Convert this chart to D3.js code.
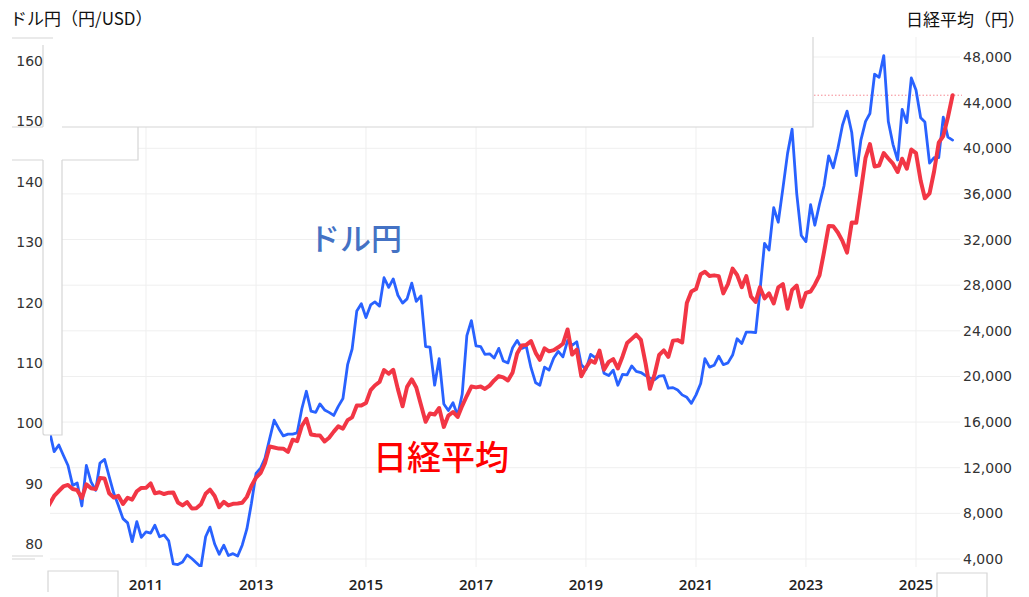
<!DOCTYPE html>
<html>
<head>
<meta charset="utf-8">
<script src="https://cdn.jsdelivr.net/npm/d3@7"></script>
<style>
  body { margin: 0; background: #fff; }
  svg { display: block; }
</style>
</head>
<body>
<div id="chart"></div>
<script>
// ドル円 月末値（2009年3月〜2025年9月）
const usdjpyStart = [2009, 2];
const usdjpy = [
  98.9, 98.6, 95.3, 96.4, 94.7, 93.0, 89.7, 90.1, 86.3, 93.0,
  90.3, 88.9, 93.4, 94.0, 91.2, 88.4, 86.4, 84.2, 83.5, 80.4, 83.7, 81.1,
  82.0, 81.8, 83.1, 81.2, 81.5, 80.5, 76.7, 76.6, 77.0, 78.2, 77.6, 76.9,
  76.2, 81.2, 82.8, 80.0, 78.3, 79.8, 78.1, 78.4, 78.0, 79.8, 82.5, 86.7,
  91.7, 92.6, 94.2, 97.4, 100.5, 99.1, 97.9, 98.2, 98.2, 98.4, 102.4, 105.3,
  102.0, 101.8, 103.2, 102.2, 101.8, 101.3, 102.8, 104.1, 109.7, 112.3, 118.6, 119.8,
  117.5, 119.6, 120.1, 119.4, 124.1, 122.5, 123.9, 121.2, 119.9, 120.6, 123.2, 120.2,
  121.1, 112.7, 112.6, 106.3, 110.7, 103.2, 102.1, 103.4, 101.3, 104.8, 114.5, 117.0,
  112.8, 112.7, 111.4, 111.5, 110.8, 112.4, 110.3, 110.0, 112.5, 113.7, 112.4, 112.7,
  109.2, 106.7, 106.3, 109.3, 108.8, 110.8, 111.9, 111.0, 113.7, 112.9, 113.5, 109.7,
  108.9, 111.4, 110.9, 111.4, 108.3, 107.9, 108.8, 106.3, 108.1, 108.0, 109.5, 108.6,
  108.4, 107.9, 107.5, 107.2, 107.8, 107.9, 105.8, 105.9, 105.5, 104.7, 104.3, 103.3,
  104.7, 106.6, 110.7, 109.3, 109.6, 111.1, 109.7, 110.0, 111.3, 114.0, 113.2, 115.1,
  115.1, 115.0, 121.7, 129.8, 128.7, 135.7, 133.3, 138.9, 144.7, 148.7, 138.0, 131.1,
  130.1, 136.2, 132.8, 136.3, 139.3, 144.3, 142.3, 145.5, 149.4, 151.7, 148.2, 141.0,
  146.9, 150.0, 151.3, 157.8, 157.3, 160.9, 150.0, 146.2, 143.6, 152.0, 149.8, 157.2,
  155.2, 150.6, 149.9, 143.1, 144.0, 144.0, 150.7, 147.4, 146.9
];

// 日経平均 月末値（2009年3月〜2025年9月）
const nikkeiStart = [2009, 2];
const nikkei = [
  8110, 8828, 9523, 9958, 10357, 10493, 10133, 10034, 9345, 10546,
  10198, 10126, 11090, 11057, 9768, 9383, 9537, 8824, 9369, 9202, 9937, 10229,
  10238, 10624, 9755, 9850, 9694, 9816, 9833, 8955, 8700, 8988, 8435, 8455,
  8803, 9723, 10084, 9521, 8543, 9007, 8695, 8840, 8870, 8928, 9446, 10395,
  11139, 11559, 12398, 13861, 13775, 13677, 13668, 13389, 14456, 14328, 15662, 16291,
  14915, 14841, 14828, 14304, 14632, 15162, 15621, 15425, 16174, 16414, 17460, 17451,
  17674, 18798, 19207, 19520, 20563, 20236, 20585, 18890, 17388, 19083, 19747, 19034,
  17518, 16027, 16759, 16666, 17235, 15576, 16569, 16887, 16450, 17425, 18308, 19114,
  19041, 19119, 18909, 19197, 19651, 20033, 19925, 19646, 20356, 22012, 22725, 22765,
  23098, 22068, 21454, 22468, 22202, 22305, 22554, 22865, 24120, 21920, 22351, 20015,
  20773, 21385, 21206, 22259, 20601, 21276, 21522, 20704, 21756, 22927, 23294, 23657,
  23205, 21143, 18917, 20194, 21878, 22288, 21710, 23140, 23185, 22977, 26434, 27444,
  27663, 28966, 29179, 28813, 28860, 28792, 27284, 28090, 29453, 28893, 27822, 28792,
  27002, 26527, 27821, 26848, 27280, 26393, 27802, 28092, 25937, 27587, 27968, 26095,
  27327, 27446, 28041, 28856, 30888, 33189, 33172, 32619, 31858, 30859, 33487, 33464,
  36287, 39166, 40369, 38406, 38488, 39583, 39102, 38648, 37920, 39081, 38208, 39895,
  39572, 37156, 35618, 36045, 37965, 40487, 41070, 42718, 44650
];

// 目盛り
const leftTicks = [80, 90, 100, 110, 120, 130, 140, 150, 160];
const rightTicks = [4000, 8000, 12000, 16000, 20000, 24000, 28000, 32000, 36000, 40000, 44000, 48000];
const yearTicks = [2011, 2013, 2015, 2017, 2019, 2021, 2023, 2025];

const leftTitle = "ドル円（円/USD）";
const rightTitle = "日経平均（円）";
const usdLabel = "ドル円";
const nikkeiLabel = "日経平均";

const width = 1029, height = 597;
const plotLeft = 50, plotRight = 960, plotTop = 37, plotBottom = 567;

const blue = "#2962ff";
const red = "#f23645";
const border = "#d6d6d6";

const x = d3.scaleTime()
  .domain([new Date(2011, 0, 1), new Date(2025, 0, 1)])
  .range([146, 916]);
const yL = d3.scaleLinear().domain([80, 160]).range([544, 61]);
const yR = d3.scaleLinear().domain([4000, 48000]).range([559, 57]);

// 月ごとの点に変換（月初に描画）
const toPoints = (start, values) =>
  values.map((v, i) => ({ date: new Date(start[0], start[1] + i, 1), value: v }));
const usdData = toPoints(usdjpyStart, usdjpy);
const nkData = toPoints(nikkeiStart, nikkei);

const svg = d3.select("#chart").append("svg")
  .attr("width", width)
  .attr("height", height);

svg.append("defs").append("clipPath").attr("id", "plotclip")
  .append("rect")
  .attr("x", plotLeft).attr("y", plotTop)
  .attr("width", plotRight - plotLeft).attr("height", plotBottom - plotTop);

// グリッド線
const grid = svg.append("g").attr("stroke", "#efefef").attr("stroke-width", 1);
grid.selectAll("line.h")
  .data(rightTicks)
  .join("line")
  .attr("class", "h")
  .attr("x1", plotLeft).attr("x2", plotRight)
  .attr("y1", d => yR(d)).attr("y2", d => yR(d));
grid.selectAll("line.v")
  .data(yearTicks)
  .join("line")
  .attr("class", "v")
  .attr("x1", d => x(new Date(d, 0, 1))).attr("x2", d => x(new Date(d, 0, 1)))
  .attr("y1", plotTop).attr("y2", plotBottom);

// 最新値の点線
const lastNk = nkData[nkData.length - 1];
svg.append("line")
  .attr("x1", 814).attr("x2", 962)
  .attr("y1", yR(lastNk.value)).attr("y2", yR(lastNk.value))
  .attr("stroke", "#f58a94")
  .attr("stroke-width", 1)
  .attr("stroke-dasharray", "1.5,2");

// 系列の線
const lines = svg.append("g").attr("clip-path", "url(#plotclip)").attr("fill", "none")
  .attr("stroke-linejoin", "round").attr("stroke-linecap", "round");

lines.append("path")
  .datum(usdData)
  .attr("stroke", blue)
  .attr("stroke-width", 2.8)
  .attr("d", d3.line().x(d => x(d.date)).y(d => yL(d.value)));

lines.append("path")
  .datum(nkData)
  .attr("stroke", red)
  .attr("stroke-width", 4)
  .attr("d", d3.line().x(d => x(d.date)).y(d => yR(d.value)));

// 貼り付け跡の白いボックス
const cover = svg.append("g").attr("fill", "#fff").attr("stroke", "none");
cover.append("rect").attr("x", 0).attr("y", 30).attr("width", 813).attr("height", 97);
cover.append("rect").attr("x", 0).attr("y", 127).attr("width", 138).attr("height", 33);
cover.append("rect").attr("x", 0).attr("y", 160).attr("width", 62).attr("height", 275);
cover.append("rect").attr("x", 0).attr("y", 435).attr("width", 43).attr("height", 162);
cover.append("rect").attr("x", 48).attr("y", 571).attr("width", 70).attr("height", 26);
cover.append("rect").attr("x", 937).attr("y", 573).attr("width", 50).attr("height", 24);

const edges = svg.append("g").attr("fill", "none").attr("stroke", border).attr("stroke-width", 1.2);
edges.append("path").attr("d", [
  "M12,38H53",
  "M43,45V127", "M12,127H43",
  "M12,160H43", "M43,160V433Q43,435 45,435H62V160",
  "M62,160H138V127", "M62,127H813V37",
  "M12,556H43", "M12,559H35",
  "M48,592V571H118V597",
  "M937,597V573H987V597"
].join(""));

// 左軸ラベル
svg.append("g")
  .attr("font-family", "DejaVu Sans, sans-serif")
  .attr("font-size", 14)
  .attr("fill", "#333")
  .attr("text-anchor", "end")
  .selectAll("text")
  .data(leftTicks)
  .join("text")
  .attr("x", 43)
  .attr("y", d => yL(d))
  .attr("dy", "0.36em")
  .text(d => d);

// 右軸ラベル
svg.append("g")
  .attr("font-family", "DejaVu Sans, sans-serif")
  .attr("font-size", 14)
  .attr("fill", "#333")
  .selectAll("text")
  .data(rightTicks)
  .join("text")
  .attr("x", 963)
  .attr("y", d => yR(d))
  .attr("dy", "0.36em")
  .text(d => d3.format(",")(d));

// 年ラベル
svg.append("g")
  .attr("font-family", "Open Sans, sans-serif")
  .attr("font-size", 15)
  .attr("font-weight", 600)
  .attr("fill", "#222")
  .attr("text-anchor", "middle")
  .selectAll("text")
  .data(yearTicks)
  .join("text")
  .attr("x", d => x(new Date(d, 0, 1)))
  .attr("y", 590)
  .text(d => d);

// 軸タイトル
svg.append("text")
  .attr("x", 10).attr("y", 25)
  .attr("font-family", "Noto Sans CJK JP, sans-serif")
  .attr("font-size", 17)
  .attr("fill", "#111")
  .text(leftTitle);

svg.append("text")
  .attr("x", 1025).attr("y", 26)
  .attr("text-anchor", "end")
  .attr("font-family", "Noto Sans CJK JP, sans-serif")
  .attr("font-size", 17)
  .attr("fill", "#111")
  .text(rightTitle);

// 系列名
svg.append("text")
  .attr("x", 309).attr("y", 250)
  .attr("font-family", "Noto Sans CJK JP, sans-serif")
  .attr("font-size", 31)
  .attr("font-weight", 500)
  .attr("fill", "#4472c4")
  .text(usdLabel);

svg.append("text")
  .attr("x", 373).attr("y", 470)
  .attr("font-family", "Noto Sans CJK JP, sans-serif")
  .attr("font-size", 34)
  .attr("font-weight", 500)
  .attr("fill", "#ff0000")
  .text(nikkeiLabel);
</script>
</body>
</html>
